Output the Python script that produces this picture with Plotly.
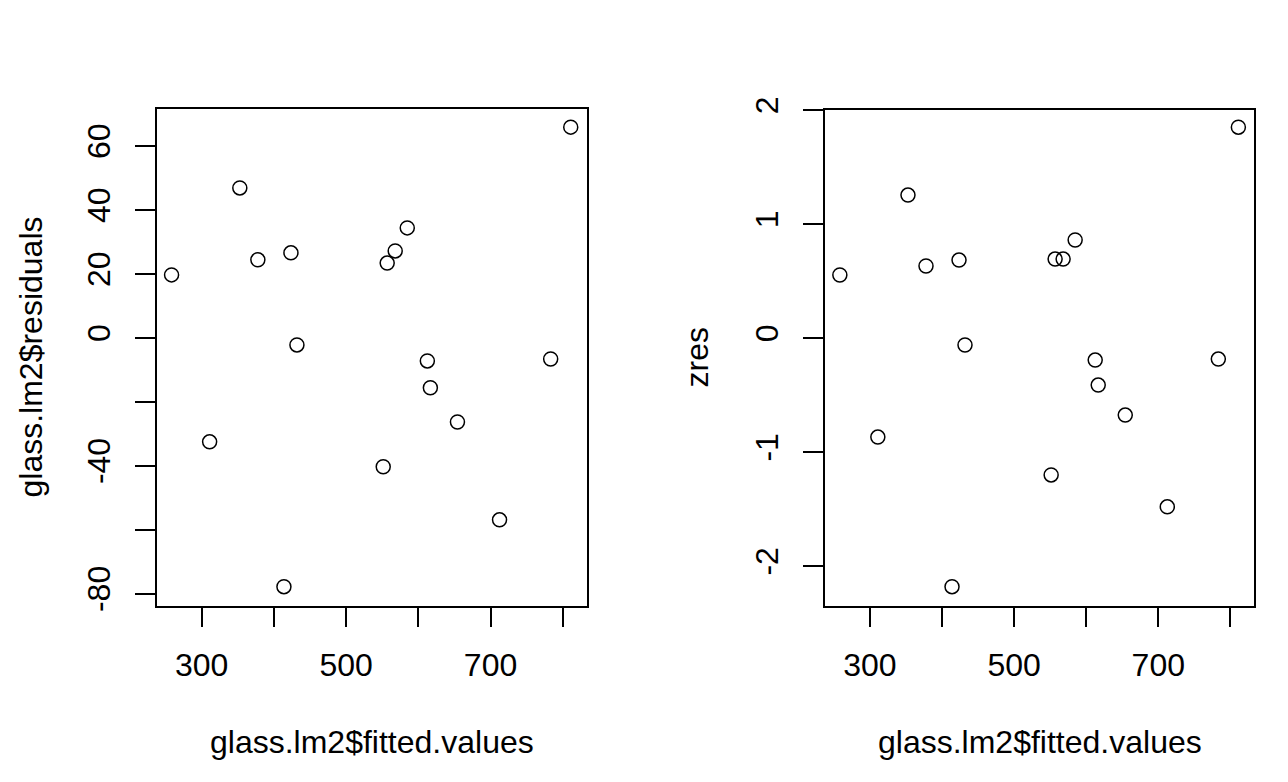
import plotly.graph_objects as go

fitted = [258.3, 311.0, 352.8, 377.8, 413.9, 423.6, 431.9, 551.4, 556.9, 568.0,
          584.7, 612.5, 616.7, 654.2, 712.5, 783.3, 811.1]
residuals = [19.7, -32.5, 46.9, 24.4, -77.8, 26.6, -2.2, -40.3, 23.4, 27.2,
             34.4, -7.2, -15.6, -26.3, -56.9, -6.6, 65.9]
zres = [0.553, -0.868, 1.254, 0.632, -2.18, 0.684, -0.061, -1.20, 0.693, 0.693,
        0.86, -0.193, -0.412, -0.675, -1.48, -0.184, 1.85]

x_tickvals = [300, 400, 500, 600, 700, 800]
x_ticktext = ["300", "", "500", "", "700", ""]
res_tickvals = [-80, -60, -40, -20, 0, 20, 40, 60]
res_ticktext = ["-80", "", "-40", "", "0", "20", "40", "60"]
z_tickvals = [-2, -1, 0, 1, 2]
z_ticktext = ["-2", "-1", "0", "1", "2"]

# page body has a default 8px margin; figure sized to fit the viewport
OFF = 8
W, H = 1288 - 2 * OFF, 782 - 2 * OFF
FONT = "Liberation Sans, Arial, Helvetica, sans-serif"
FS = 32

def px_x(p):
    return (p - OFF) / W

def px_y(p):
    return 1 - (p - OFF) / H

fig = go.Figure()
marker = dict(symbol="circle-open", size=14, color="black", line=dict(width=1.5, color="black"))
fig.add_trace(go.Scatter(x=fitted, y=residuals, mode="markers", marker=marker,
                         xaxis="x", yaxis="y", showlegend=False))
fig.add_trace(go.Scatter(x=fitted, y=zres, mode="markers", marker=marker,
                         xaxis="x2", yaxis="y2", showlegend=False))

common = dict(showgrid=False, zeroline=False, showline=True, mirror=True,
              linecolor="black", linewidth=1.5, ticks="outside", ticklen=20,
              tickwidth=1.5, tickcolor="black", automargin=False,
              tickfont=dict(family=FONT, size=FS, color="black"))

fig.update_layout(
    template="none",
    width=W, height=H, margin=dict(l=0, r=0, t=0, b=0, pad=0),
    paper_bgcolor="white", plot_bgcolor="white",
    xaxis=dict(domain=[px_x(156.7), px_x(586.7)], range=[237.7, 833.2], anchor="y",
               tickvals=x_tickvals, ticktext=x_ticktext, ticklabelstandoff=10, **common),
    yaxis=dict(domain=[px_y(605.7), px_y(109.3)], range=[-83.75, 71.48], anchor="x",
               tickvals=res_tickvals, ticktext=res_ticktext, tickangle=-90,
               ticklabelstandoff=12, **common),
    xaxis2=dict(domain=[px_x(825.0), px_x(1254.3)], range=[237.7, 833.2], anchor="y2",
                tickvals=x_tickvals, ticktext=x_ticktext, ticklabelstandoff=10, **common),
    yaxis2=dict(domain=[px_y(605.7), px_y(109.7)], range=[-2.347, 2.003], anchor="x2",
                tickvals=z_tickvals, ticktext=z_ticktext, tickangle=-90,
                ticklabelstandoff=12, **common),
)

ann_font = dict(family=FONT, size=FS, color="black")
fig.add_annotation(text="glass.lm2$fitted.values", x=px_x(371.7), y=px_y(742),
                   xref="paper", yref="paper", showarrow=False, font=ann_font,
                   xanchor="center", yanchor="middle")
fig.add_annotation(text="glass.lm2$fitted.values", x=px_x(1039.7), y=px_y(742),
                   xref="paper", yref="paper", showarrow=False, font=ann_font,
                   xanchor="center", yanchor="middle")
fig.add_annotation(text="glass.lm2$residuals", x=px_x(30), y=px_y(357.5),
                   xref="paper", yref="paper", showarrow=False, font=ann_font,
                   textangle=-90, xanchor="center", yanchor="middle")
fig.add_annotation(text="zres", x=px_x(696), y=px_y(357.5),
                   xref="paper", yref="paper", showarrow=False, font=ann_font,
                   textangle=-90, xanchor="center", yanchor="middle")

fig.write_html("out.html")
